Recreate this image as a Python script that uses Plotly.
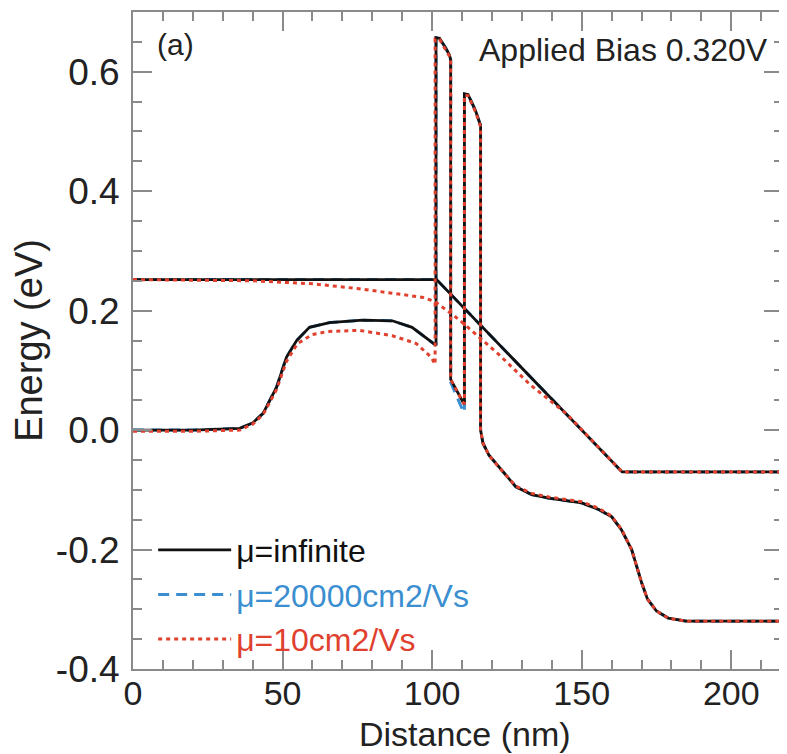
import plotly.graph_objects as go

# ---------------- data ----------------
# band profile, mu = infinite (black)
band_inf_x = [0, 20, 35.7, 40, 43.5, 48, 51.3, 54.7, 59, 65.7, 76.7, 86.7, 93.3, 98, 101.3,
              101.3, 102.5, 104.5, 105.8, 106.2,
              106.2, 110.5,
              110.8, 110.8, 112.0, 114.5, 115.8, 116.2,
              116.2, 117, 119, 122.3, 128, 133.3, 139, 150, 155.7, 160, 163.3, 166.7, 170,
              172, 175, 179, 185, 218]
band_inf_y = [0.0, 0.0, 0.003, 0.012, 0.028, 0.072, 0.122, 0.150, 0.172, 0.180, 0.184, 0.183,
              0.172, 0.155, 0.142,
              0.657, 0.656, 0.640, 0.628, 0.620,
              0.085, 0.045,
              0.045, 0.563, 0.562, 0.535, 0.518, 0.510,
              0.0, -0.022, -0.042, -0.062, -0.095, -0.108, -0.114, -0.122, -0.133, -0.145,
              -0.167, -0.200, -0.255, -0.283, -0.303, -0.315, -0.320, -0.320]

# band profile, mu = 20000 cm2/Vs (blue)
band_20k_x = band_inf_x
band_20k_y = [0.0, 0.0, 0.003, 0.012, 0.028, 0.072, 0.122, 0.150, 0.172, 0.180, 0.184, 0.183,
              0.172, 0.155, 0.142,
              0.657, 0.656, 0.640, 0.628, 0.620,
              0.080, 0.030,
              0.030, 0.563, 0.562, 0.535, 0.518, 0.510,
              0.0, -0.022, -0.042, -0.062, -0.095, -0.108, -0.114, -0.122, -0.133, -0.145,
              -0.167, -0.200, -0.255, -0.283, -0.303, -0.315, -0.320, -0.320]

# band profile, mu = 10 cm2/Vs (red)
band_10_x = [0, 20, 35.7, 40, 43.5, 48, 51.3, 55, 60, 65, 75.7, 86.7, 94.7, 99.7, 101.0,
             101.0, 102.5, 104.5, 105.8, 106.2,
             106.2, 110.5,
             110.8, 110.8, 112.0, 114.5, 115.8, 116.2,
             116.2, 117, 119, 122.3, 128, 133.3, 139, 150, 155.7, 160, 163.3, 166.7, 170,
             172, 175, 179, 185, 218]
band_10_y = [-0.002, -0.002, 0.0, 0.010, 0.026, 0.068, 0.115, 0.145, 0.160, 0.165, 0.167, 0.158,
             0.145, 0.122, 0.110,
             0.655, 0.654, 0.638, 0.626, 0.618,
             0.085, 0.045,
             0.045, 0.561, 0.560, 0.533, 0.516, 0.508,
             0.0, -0.022, -0.042, -0.062, -0.094, -0.106, -0.112, -0.120, -0.131, -0.144,
             -0.166, -0.200, -0.255, -0.283, -0.303, -0.315, -0.320, -0.320]

# quasi-Fermi level curves
fermi_inf_x = [0, 101.5, 163.5, 218]
fermi_inf_y = [0.252, 0.252, -0.070, -0.070]

fermi_20k_x = [0, 101.5, 163.5, 218]
fermi_20k_y = [0.252, 0.252, -0.070, -0.070]

fermi_10_x = [0, 40, 60, 75, 90, 97, 101, 109, 117, 122, 133, 145, 163.5, 218]
fermi_10_y = [0.252, 0.250, 0.245, 0.237, 0.227, 0.222, 0.215, 0.185, 0.150, 0.128, 0.075,
              0.027, -0.070, -0.070]

series_names = ["μ=infinite", "μ=20000cm2/Vs", "μ=10cm2/Vs"]
series_colors = ["#111111", "#3b8fd0", "#e0402e"]

x_ticks = [0, 50, 100, 150, 200]
y_ticks = [-0.4, -0.2, 0.0, 0.2, 0.4, 0.6]
y_ticktext = ["-0.4", "-0.2", "0.0", "0.2", "0.4", "0.6"]

x_title = "Distance (nm)"
y_title = "Energy (eV)"
annotation_bias = "Applied Bias 0.320V"
annotation_panel = "(a)"

# ---------------- figure ----------------
FONT = "Liberation Sans, Arial, sans-serif"
fig = go.Figure()

styles = [
    dict(color=series_colors[0], width=2.8, dash="solid"),
    dict(color=series_colors[1], width=3, dash="11px,7px"),
    dict(color=series_colors[2], width=3, dash="4px,4px"),
]
data = [
    (band_inf_x, band_inf_y, fermi_inf_x, fermi_inf_y),
    (band_20k_x, band_20k_y, fermi_20k_x, fermi_20k_y),
    (band_10_x, band_10_y, fermi_10_x, fermi_10_y),
]
draw_order = [1, 0, 2]
for i in draw_order:
    bx, by, fx, fy = data[i]
    name = '<span style="color:%s">%s</span>' % (series_colors[i], series_names[i])
    fig.add_trace(go.Scatter(x=bx, y=by, mode="lines", line=styles[i], name=name,
                             legendgroup=str(i), legendrank=i + 1, showlegend=True,
                             hoverinfo="skip"))
    fig.add_trace(go.Scatter(x=fx, y=fy, mode="lines", line=styles[i], name=name,
                             legendgroup=str(i), showlegend=False, hoverinfo="skip"))

axis_common = dict(
    showline=True, linecolor="#8a8a8a", linewidth=2, mirror="ticks",
    ticks="inside", tickcolor="#8a8a8a", tickwidth=2, ticklen=19,
    showgrid=False, zeroline=False,
)
fig.update_xaxes(
    range=[0, 217.3], tickvals=x_ticks, ticktext=[str(v) for v in x_ticks],
    tickfont=dict(family=FONT, size=34, color="#222"),
    ticklabelstandoff=-7,
    minor=dict(ticks="inside", ticklen=9, dtick=10, tick0=0, tickcolor="#8a8a8a", tickwidth=2),
    **axis_common,
)
fig.update_yaxes(
    range=[-0.4, 0.7], tickvals=y_ticks, ticktext=y_ticktext,
    tickfont=dict(family=FONT, size=37, color="#222"),
    minor=dict(ticks="inside", ticklen=9, dtick=0.05, tick0=0, tickcolor="#8a8a8a", tickwidth=2),
    title=dict(text=y_title, font=dict(family=FONT, size=38, color="#222"), standoff=4),
    ticklabelstandoff=4,
    **axis_common,
)

# x-axis title placed as a paper annotation so it sits snugly below the tick labels
fig.add_annotation(x=0.511, y=-0.0986, xref="paper", yref="paper", xanchor="center", yanchor="middle",
                   text=x_title, showarrow=False, borderpad=0,
                   font=dict(family=FONT, size=34, color="#222"))
fig.add_annotation(x=0.98, y=0.942, xref="paper", yref="paper", xanchor="right", yanchor="middle",
                   text=annotation_bias, showarrow=False,
                   font=dict(family=FONT, size=32, color="#222"))
fig.add_annotation(x=0.034, y=0.950, xref="paper", yref="paper", xanchor="left", yanchor="middle",
                   text=annotation_panel, showarrow=False,
                   font=dict(family=FONT, size=30, color="#222"))

# the page is shown with an 8 px body margin, so the figure is sized/offset for it
fig.update_layout(
    width=779, height=746,
    margin=dict(l=125, r=2, t=2, b=85),
    paper_bgcolor="white", plot_bgcolor="white",
    showlegend=True,
    legend=dict(x=0.031, y=0.223, xanchor="left", yanchor="top",
                bgcolor="rgba(0,0,0,0)", font=dict(family=FONT, size=32),
                tracegroupgap=0, itemwidth=73),
)

fig.write_html("out.html")
